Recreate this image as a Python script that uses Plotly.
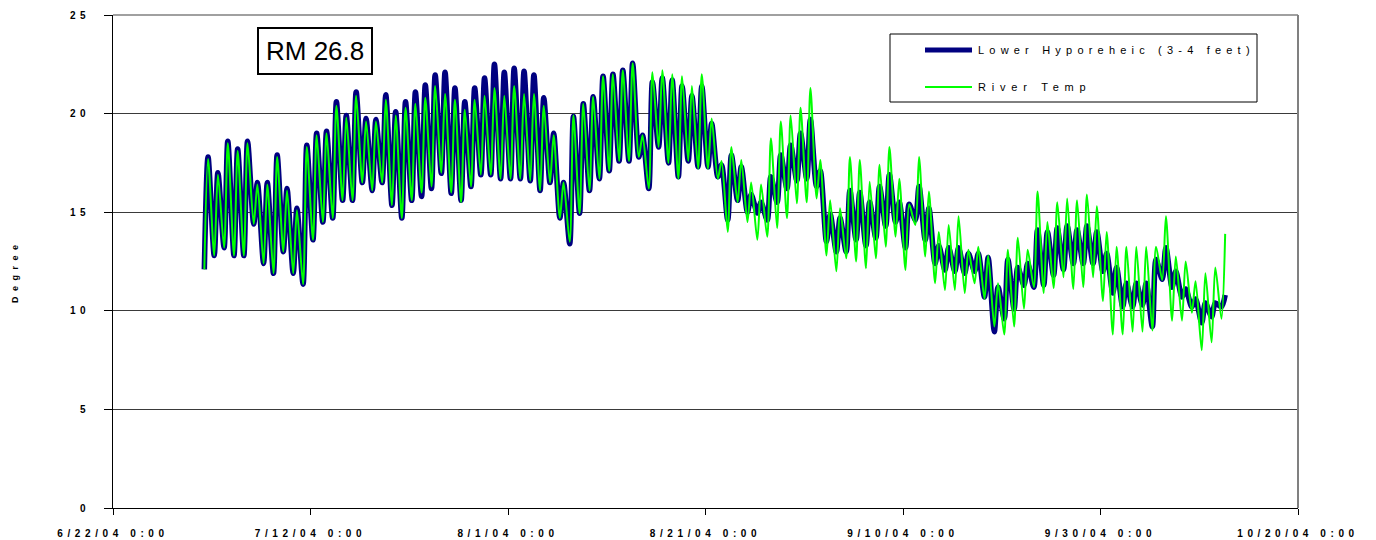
import pandas as pd
import plotly.graph_objects as go

# ---------------- data (daily min / max) ----------------
start_day = "2004-07-01"

hyp_min = [12.1, 12.8, 13.2, 12.8, 12.8, 14.4, 12.4, 11.9, 13.0, 11.9,
           11.35, 13.6, 14.5, 14.7, 15.6, 15.6, 16.5, 16.1, 16.5, 15.35,
           14.7, 15.6, 15.8, 16.2, 16.97, 15.96, 15.6, 16.3, 16.9, 16.9,
           16.7, 16.7, 16.7, 16.6, 16.1, 16.5, 14.7, 13.4, 14.95, 16.1,
           16.7, 17.1, 17.6, 17.6, 17.8, 16.2, 18.3, 17.5, 16.8, 17.6,
           17.3, 17.3, 16.8, 14.6, 15.6, 15.0, 14.96, 14.6, 15.5, 16.2,
           16.6, 16.7, 16.3, 13.5, 13.0, 13.0, 13.6, 13.3, 13.7, 14.3,
           14.5, 13.2, 14.6, 13.6, 12.4, 12.07, 12.0, 11.9, 12.0, 10.7,
           8.94, 9.6, 10.1, 11.3, 11.2, 11.3, 11.8, 12.1, 12.4, 12.4,
           12.4, 12.0, 10.9, 10.2, 10.2, 10.3, 9.2, 11.6, 11.2, 10.7,
           10.2, 9.4, 9.7, 10.2]
hyp_max = [17.8, 17.0, 18.6, 18.2, 18.6, 16.5, 16.5, 17.9, 16.2, 15.2,
           18.4, 19.0, 19.1, 20.6, 19.9, 21.1, 19.75, 19.7, 20.95, 20.1,
           20.6, 21.1, 21.45, 21.96, 22.1, 21.3, 20.6, 21.3, 21.8, 22.5,
           22.1, 22.3, 22.15, 21.96, 20.8, 19.0, 16.5, 19.85, 20.5, 20.85,
           21.9, 22.0, 22.2, 22.55, 18.9, 21.6, 21.8, 21.7, 21.4, 20.9,
           21.4, 19.5, 17.4, 17.9, 17.3, 15.9, 15.5, 16.8, 17.9, 18.4,
           19.0, 19.7, 17.1, 14.9, 14.7, 16.1, 16.0, 15.5, 16.3, 16.9,
           15.5, 15.4, 16.3, 15.2, 13.3, 13.2, 13.2, 12.9, 12.9, 12.7,
           11.2, 12.6, 12.2, 12.4, 14.1, 14.0, 14.2, 14.3, 14.1, 14.3,
           14.0, 12.9, 12.2, 11.4, 11.4, 11.4, 12.6, 13.2, 12.0, 11.1,
           10.6, 10.4, 10.4, 10.8]

riv_min = [12.1, 12.8, 13.2, 12.8, 12.8, 14.4, 12.4, 11.9, 13.0, 11.9,
           11.35, 13.6, 14.5, 14.7, 15.6, 15.6, 16.5, 16.1, 16.5, 15.35,
           14.7, 15.6, 16.0, 16.3, 17.0, 16.0, 15.5, 16.3, 16.9, 16.9,
           16.7, 16.7, 16.7, 16.6, 16.1, 16.5, 14.7, 13.5, 14.95, 16.1,
           16.7, 17.1, 17.6, 17.6, 17.8, 16.2, 18.3, 17.5, 16.7, 17.6,
           17.2, 17.2, 16.7, 14.0, 15.5, 14.5, 13.6, 13.76, 14.2, 14.7,
           15.45, 15.5, 15.7, 12.8, 12.0, 12.66, 12.5, 12.15, 12.66, 13.25,
           13.76, 12.07, 14.35, 12.75, 11.4, 11.05, 11.05, 10.9, 11.4, 10.6,
           9.2, 8.8, 9.2, 10.1, 11.2, 10.9, 11.15, 11.7, 11.1, 11.2,
           11.7, 10.5, 8.8, 8.8, 8.94, 8.94, 9.0, 11.56, 9.5, 9.5,
           9.9, 8.0, 8.4, 9.6]
riv_max = [17.7, 16.9, 18.5, 18.1, 18.5, 16.4, 16.4, 17.8, 16.1, 15.1,
           18.3, 18.9, 19.0, 20.4, 19.8, 20.9, 19.6, 19.6, 20.7, 19.9,
           20.3, 20.5, 20.8, 21.4, 21.0, 20.7, 20.2, 20.7, 20.9, 21.3,
           20.9, 21.4, 21.0, 21.0, 20.4, 18.9, 16.5, 19.9, 20.5, 20.85,
           21.9, 22.0, 22.2, 22.55, 18.9, 22.1, 22.2, 22.0, 21.9, 21.4,
           22.0, 19.75, 17.6, 18.3, 17.65, 16.5, 16.4, 18.75, 19.6, 19.9,
           20.3, 21.3, 17.65, 15.6, 15.2, 17.8, 17.65, 16.55, 17.4, 18.3,
           16.7, 15.4, 17.8, 16.05, 14.0, 14.35, 14.8, 13.1, 13.25, 12.8,
           11.4, 13.1, 13.7, 13.1, 16.05, 14.5, 15.5, 15.7, 15.6, 15.9,
           15.3, 14.0, 13.25, 13.25, 13.25, 13.25, 13.25, 14.8, 12.75, 12.5,
           11.5, 11.9, 12.2, 13.9]

x_tick_dates = ["2004-06-22", "2004-07-12", "2004-08-01", "2004-08-21",
                "2004-09-10", "2004-09-30", "2004-10-20"]
x_tick_labels = ["6/22/04 0:00", "7/12/04 0:00", "8/1/04 0:00", "8/21/04 0:00",
                 "9/10/04 0:00", "9/30/04 0:00", "10/20/04 0:00"]
y_tick_vals = [0, 5, 10, 15, 20, 25]
y_tick_labels = ["0", "5", "10", "15", "20", "25"]

series_names = ["Lower Hyporeheic (3-4 feet)", "River Temp"]
title_text = "RM 26.8"
y_title = "Degree"

# ---------------- build ----------------
days = pd.date_range(start_day, periods=len(hyp_min), freq="D")


def build(mins, maxs):
    xs, ys = [], []
    for d, lo, hi in zip(days, mins, maxs):
        xs += [d + pd.Timedelta(hours=6), d + pd.Timedelta(hours=15)]
        ys += [lo, hi]
    return xs, ys


FONT = "Arial, 'Liberation Sans', sans-serif"


def spaced(t, px):
    return f'<span style="letter-spacing:{px}px">{t}</span>'


hx, hy = build(hyp_min, hyp_max)
rx, ry = build(riv_min, riv_max)

fig = go.Figure()
fig.add_trace(go.Scatter(x=hx, y=hy, mode="lines", name=series_names[0],
                         line=dict(color="#000080", width=5.5, shape="spline", smoothing=0.8),
                         showlegend=False))
fig.add_trace(go.Scatter(x=rx, y=ry, mode="lines", name=series_names[1],
                         line=dict(color="#00FF00", width=2, shape="spline", smoothing=0.8),
                         showlegend=False))

# the page body adds an 8px offset; margins compensate so the plot area
# lands at x 113..1298, y 15..508 in the window
fig.update_layout(
    width=1376, height=540,
    margin=dict(l=105, r=86, t=7, b=40, autoexpand=False),
    paper_bgcolor="white", plot_bgcolor="white",
    font=dict(family=FONT, color="black"),
    showlegend=False,
)

fig.update_xaxes(
    type="date", range=["2004-06-22", "2004-10-20"],
    tickmode="array", tickvals=x_tick_dates,
    ticktext=[spaced(t, 4.6) for t in x_tick_labels],
    tickfont=dict(size=10, family=FONT, weight="bold"),
    showgrid=False, zeroline=False, automargin=False,
    showline=True, linecolor="black", linewidth=1,
    ticks="outside", ticklen=6, tickcolor="black", tickwidth=1,
    ticklabelstandoff=10,
)
fig.update_yaxes(
    range=[0, 25], tickmode="array", tickvals=y_tick_vals,
    ticktext=[spaced(t, 4.5) for t in y_tick_labels],
    tickfont=dict(size=10, family=FONT, weight="bold"),
    showgrid=True, gridcolor="#3a3a3a", gridwidth=1, zeroline=False, automargin=False,
    showline=True, linecolor="black", linewidth=1,
    ticks="outside", ticklen=8, tickcolor="black", tickwidth=1,
    ticklabelstandoff=12,
)

# plot-area border (top / right in grey)
fig.add_shape(type="line", xref="paper", yref="paper", x0=0, x1=1, y0=1, y1=1,
              line=dict(color="#808080", width=1.5))
fig.add_shape(type="line", xref="paper", yref="paper", x0=1, x1=1, y0=0, y1=1,
              line=dict(color="#808080", width=2))

# title box
fig.add_annotation(xref="paper", yref="paper", x=0.1705, y=1 - (51.5 - 15) / 493,
                   xanchor="center", yanchor="middle", showarrow=False,
                   text=title_text, font=dict(size=26, family=FONT, color="black"),
                   bordercolor="black", borderwidth=2, borderpad=7, bgcolor="white")

# y-axis title
fig.add_annotation(xref="paper", yref="paper", x=-0.0827, y=1 - (271 - 15) / 493,
                   xanchor="center", yanchor="middle", showarrow=False, textangle=-90,
                   text=spaced(y_title, 5.5), font=dict(size=9, family=FONT, weight="bold"))

# legend (drawn box)
lx0, lx1 = (890 - 113) / 1185, (1257 - 113) / 1185
ly0, ly1 = 1 - (102 - 15) / 493, 1 - (34 - 15) / 493
fig.add_shape(type="rect", xref="paper", yref="paper", x0=lx0, x1=lx1, y0=ly0, y1=ly1,
              line=dict(color="black", width=1), fillcolor="white", layer="above")
sx0, sx1 = (925 - 113) / 1185, (972 - 113) / 1185
for yy, col, w in [(1 - (50 - 15) / 493, "#000080", 5), (1 - (87 - 15) / 493, "#00FF00", 2)]:
    fig.add_shape(type="line", xref="paper", yref="paper", x0=sx0, x1=sx1, y0=yy, y1=yy,
                  line=dict(color=col, width=w), layer="above")
fig.add_annotation(xref="paper", yref="paper", x=(976 - 113) / 1185, y=1 - (50 - 15) / 493,
                   xanchor="left", yanchor="middle", showarrow=False,
                   text=spaced(series_names[0], 5.2), font=dict(size=11, family=FONT))
fig.add_annotation(xref="paper", yref="paper", x=(976 - 113) / 1185, y=1 - (87 - 15) / 493,
                   xanchor="left", yanchor="middle", showarrow=False,
                   text=spaced(series_names[1], 5.8), font=dict(size=11, family=FONT))

fig.write_html("out.html")
